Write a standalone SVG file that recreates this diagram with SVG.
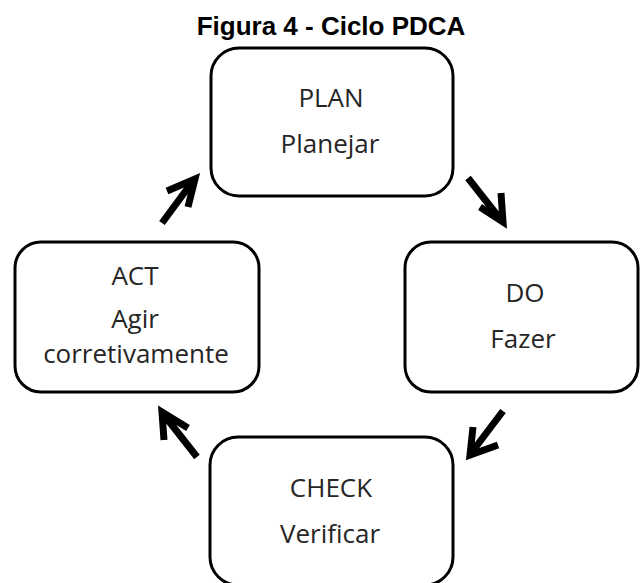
<svg xmlns="http://www.w3.org/2000/svg" width="641" height="583" viewBox="0 0 641 583">
  <style>
    .box { fill: #ffffff; stroke: #000000; stroke-width: 3; }
    .lbl { font-family: "Open Sans", "Noto Sans", sans-serif; font-size: 26px; fill: #262626; text-anchor: middle; }
    .title { font-family: "Liberation Sans", Arial, sans-serif; font-size: 26px; font-weight: bold; fill: #000000; text-anchor: middle; }
    .arr { fill: none; stroke: #000000; stroke-width: 7; stroke-linejoin: miter; }
  </style>
  <rect width="641" height="583" fill="#ffffff"/>
  <text class="title" x="331" y="35">Figura 4 - Ciclo PDCA</text>

  <g id="plan">
    <rect class="box" x="211" y="48" width="242" height="148" rx="28"/>
    <text class="lbl" x="331" y="107">PLAN</text>
    <text class="lbl" x="330" y="153">Planejar</text>
  </g>
  <g id="do">
    <rect class="box" x="405" y="242" width="233" height="150" rx="26"/>
    <text class="lbl" x="525" y="302">DO</text>
    <text class="lbl" x="523" y="348">Fazer</text>
  </g>
  <g id="check">
    <rect class="box" x="210" y="437" width="243" height="148" rx="28"/>
    <text class="lbl" x="331" y="497">CHECK</text>
    <text class="lbl" x="330" y="543">Verificar</text>
  </g>
  <g id="act">
    <rect class="box" x="15" y="242" width="244" height="150" rx="26"/>
    <text class="lbl" x="135" y="285">ACT</text>
    <text class="lbl" x="135" y="328">Agir</text>
    <text class="lbl" x="136" y="363">corretivamente</text>
  </g>

  <g id="connectors">
    <!-- ACT to PLAN -->
    <path class="arr" d="M162 223 L193 181 M167 191 L195 179 L188 207"/>
    <!-- PLAN to DO -->
    <path class="arr" d="M468 178 L501 220 M480 207 L503 222 L501 193"/>
    <!-- DO to CHECK -->
    <path class="arr" d="M503 411 L472 452 M473 427 L470 455 L498 445"/>
    <!-- CHECK to ACT -->
    <path class="arr" d="M197 457 L164 415 M164 440 L162 412 L188 428"/>
  </g>
</svg>
